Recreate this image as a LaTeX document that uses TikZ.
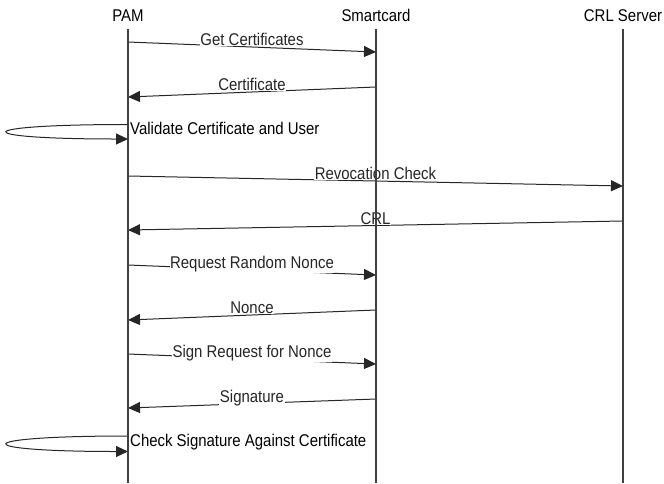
\documentclass[tikz,border=0pt]{standalone}
\usepackage{fontspec}
\setmainfont{Liberation Sans}[FakeStretch=0.88]
\usetikzlibrary{arrows.meta,calc}

\begin{document}
\begin{tikzpicture}[x=1pt,y=-1pt,>={Triangle[length=12pt,width=11pt]},
  font=\fontsize{17}{19}\selectfont,
  life/.style={line width=1.1pt,black!75},
  msg/.style={->,line width=1pt,black!85},
  lbl/.style={fill=white,inner sep=0.5pt,anchor=base,yshift=1.5pt},
  head/.style={anchor=base,inner sep=0pt}]

\useasboundingbox (0,0) rectangle (664,483);

% ---------- Participants ----------
\node[head] (pam)  at (128,21) {PAM};
\node[head] (card) at (376,21) {Smartcard};
\node[head] (crl)  at (623,21) {CRL Server};

\coordinate (pamTop)  at (128,29);  \coordinate (pamEnd)  at (128,483);
\coordinate (cardTop) at (376,29);  \coordinate (cardEnd) at (376,483);
\coordinate (crlTop)  at (623,29);  \coordinate (crlEnd)  at (623,483);

% ---------- Certificate exchange ----------
\coordinate (getA)  at (128,42);  \coordinate (getB)  at (376,52);
\coordinate (certA) at (376,87);  \coordinate (certB) at (128,97);
\draw[msg] (getA)  -- node[lbl] {Get Certificates} (getB);
\draw[msg] (certA) -- node[lbl] {Certificate} (certB);

% self message: validation
\coordinate (valA) at (128,124.5); \coordinate (valB) at (128,139);
\draw[msg] (valA) .. controls (-33,124.5) and (-33,139) .. (valB);
\node[anchor=base west,inner sep=0pt] (val) at (130,134) {Validate Certificate and User};

% ---------- Revocation ----------
\coordinate (revA) at (128,176);  \coordinate (revB) at (623,186);
\coordinate (crlA) at (623,221);  \coordinate (crlB) at (128,230);
\draw[msg] (revA) -- node[lbl] {Revocation Check} (revB);
\draw[msg] (crlA) -- node[lbl] {CRL} (crlB);

% ---------- Nonce and signature ----------
\coordinate (reqA)  at (128,265);  \coordinate (reqB)  at (376,275);
\coordinate (nonA)  at (376,310);  \coordinate (nonB)  at (128,320);
\coordinate (signA) at (128,354);  \coordinate (signB) at (376,364);
\coordinate (sigA)  at (376,399);  \coordinate (sigB)  at (128,408);
\draw[msg] (reqA)  -- node[lbl] {Request Random Nonce} (reqB);
\draw[msg] (nonA)  -- node[lbl] {Nonce} (nonB);
\draw[msg] (signA) -- node[lbl] {Sign Request for Nonce} (signB);
\draw[msg] (sigA)  -- node[lbl] {Signature} (sigB);

% self message: final check
\coordinate (chkA) at (128,436); \coordinate (chkB) at (128,451.5);
\draw[msg] (chkA) .. controls (-33,436) and (-33,451.5) .. (chkB);
\node[anchor=base west,inner sep=0pt] (chk) at (130,446.5) {Check Signature Against Certificate};

% ---------- Lifelines (drawn on top) ----------
\draw[life] (pamTop)  -- (pamEnd);
\draw[life] (cardTop) -- (cardEnd);
\draw[life] (crlTop)  -- (crlEnd);

\end{tikzpicture}
\end{document}
